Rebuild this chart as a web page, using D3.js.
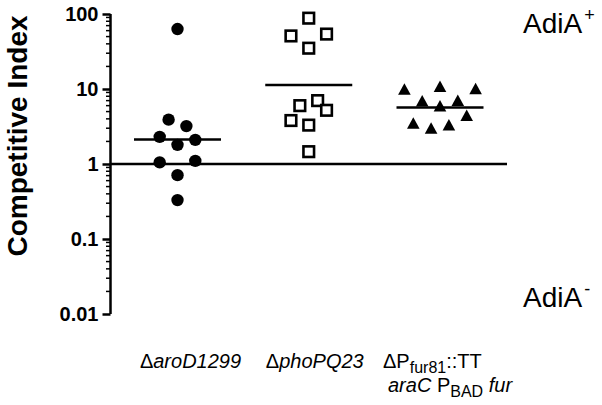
<!DOCTYPE html>
<html><head><meta charset="utf-8">
<script src="https://cdn.jsdelivr.net/npm/d3@7"></script>
<style>body{margin:0;background:#fff}svg{display:block}text{font-family:"Liberation Sans",Arial,sans-serif}</style>
</head><body><svg id="c" width="602" height="405"></svg>
<script>
// ---- data ----
const categories = ["aroD", "phoPQ", "fur"];
const shapes = ["circle", "square", "triangle"];
// Competitive index values per group
const aroDValues  = [63, 3.9, 3.2, 2.3, 2.1, 1.8, 1.05, 1.1, 0.71, 0.33];
const aroDSlots   = [0, -1, 1, -2, 2, 0, -2, 2, 0, 0];
const phoPQValues = [88, 51, 54, 35, 6.0, 7.0, 5.2, 3.8, 3.3, 1.46];
const phoPQSlots  = [0, -2, 2, 0, -1, 1, 2, -2, 0, 0];
const furValues   = [9.6, 10.5, 9.8, 6.7, 6.8, 5.75, 4.3, 3.4, 2.9, 3.2];
const furSlots    = [-4, 0, 4, -2, 2, 0, 3, -3, -1, 1];
const yTicks = [0.01, 0.1, 1, 10, 100];
const yTickLabels = ["0.01", "0.1", "1", "10", "100"];
const referenceValue = 1;

const groups = [
  {cat: "aroD", shape: "circle", values: aroDValues, slots: aroDSlots},
  {cat: "phoPQ", shape: "square", values: phoPQValues, slots: phoPQSlots},
  {cat: "fur", shape: "triangle", values: furValues, slots: furSlots}
];

// ---- layout ----
const svg = d3.select("#c");
const axisX = 110.5;
const y = d3.scaleLog().domain([0.01, 100]).range([314, 14]);
const x = d3.scalePoint().domain(categories).range([177.5, 440]);
const slotW = 8.9;
const lineEndX = 507;

// axis
const axis = d3.axisLeft(y).tickValues(yTicks).tickFormat((d, i) => yTickLabels[i]).tickSize(8).tickPadding(4);
const gA = svg.append("g").attr("transform", `translate(${axisX},0)`).call(axis);
gA.select(".domain").attr("stroke", "#000").attr("stroke-width", 2.5).attr("d", `M0,${y(100)}V${y(0.01)}`);
gA.selectAll(".tick line").attr("stroke", "#000").attr("stroke-width", 2.5);
gA.selectAll(".tick text").attr("font-size", 20).attr("font-weight", "bold").attr("fill", "#000")
  .attr("font-family", '"Liberation Sans",Arial,sans-serif');
// minor ticks
const minor = [];
for (let e = -2; e < 2; e++) for (let m = 2; m <= 9; m++) minor.push(m * Math.pow(10, e));
gA.selectAll(".minor").data(minor).enter().append("line")
  .attr("x1", -4.5).attr("x2", 0).attr("y1", d => y(d)).attr("y2", d => y(d))
  .attr("stroke", "#000").attr("stroke-width", 1.5);

// axis title
svg.append("text").attr("transform", `translate(27,136) rotate(-90)`).attr("text-anchor", "middle")
  .attr("font-size", 28).attr("font-weight", "bold").text("Competitive Index");

// reference line
svg.append("line").attr("x1", axisX).attr("x2", lineEndX).attr("y1", y(referenceValue)).attr("y2", y(referenceValue))
  .attr("stroke", "#000").attr("stroke-width", 2.5);

// points
groups.forEach(g => {
  const pts = g.values.map((v, i) => ({v, s: g.slots[i]}));
  const cx = x(g.cat);
  const sel = svg.append("g");
  pts.forEach(p => {
    const px = cx + p.s * slotW, py = y(p.v);
    if (g.shape === "circle") {
      sel.append("circle").attr("cx", px).attr("cy", py).attr("r", 6.2).attr("fill", "#000");
    } else if (g.shape === "square") {
      sel.append("rect").attr("x", px - 5.3).attr("y", py - 5.3).attr("width", 10.6).attr("height", 10.6)
        .attr("fill", "#fff").attr("stroke", "#000").attr("stroke-width", 2.6);
    } else {
      sel.append("path").attr("d", `M${px},${py - 7}L${px + 6.3},${py + 4.5}L${px - 6.3},${py + 4.5}Z`).attr("fill", "#000");
    }
  });
  // geometric mean line
  const gm = Math.pow(10, d3.mean(g.values, v => Math.log10(v)));
  svg.append("line").attr("x1", cx - 43.5).attr("x2", cx + 43.5).attr("y1", y(gm)).attr("y2", y(gm))
    .attr("stroke", "#000").attr("stroke-width", 2.5);
});

// category labels
function label(xp, yp, parts, anchor) {
  const t = svg.append("text").attr("x", xp).attr("y", yp).attr("font-size", 20).attr("text-anchor", anchor || "middle");
  parts.forEach(p => {
    const ts = t.append("tspan").text(p.t);
    if (p.i) ts.attr("font-style", "italic");
    if (p.sub) ts.attr("font-size", 16).attr("dy", 5);
    if (p.up) ts.attr("dy", -5);
  });
  return t;
}
label(x("aroD") + 13, 368, [{t: "Δ"}, {t: "aroD1299", i: true}]);
label(x("phoPQ") + 6, 368, [{t: "Δ"}, {t: "phoPQ23", i: true}]);
label(383, 368, [{t: "ΔP"}, {t: "fur81", sub: true}, {t: "::TT", up: true}], "start");
label(388, 392, [{t: "araC", i: true}, {t: " P"}, {t: "BAD", sub: true}, {t: " ", up: true}, {t: "fur", i: true}], "start");

// AdiA annotations
function adia(yp, sup) {
  const t = svg.append("text").attr("x", 523).attr("y", yp).attr("font-size", 28);
  t.append("tspan").text("AdiA");
  t.append("tspan").text(sup).attr("font-size", 18).attr("dy", -12).attr("dx", 2);
}
adia(33, "+");
adia(307, "-");
</script></body></html>
